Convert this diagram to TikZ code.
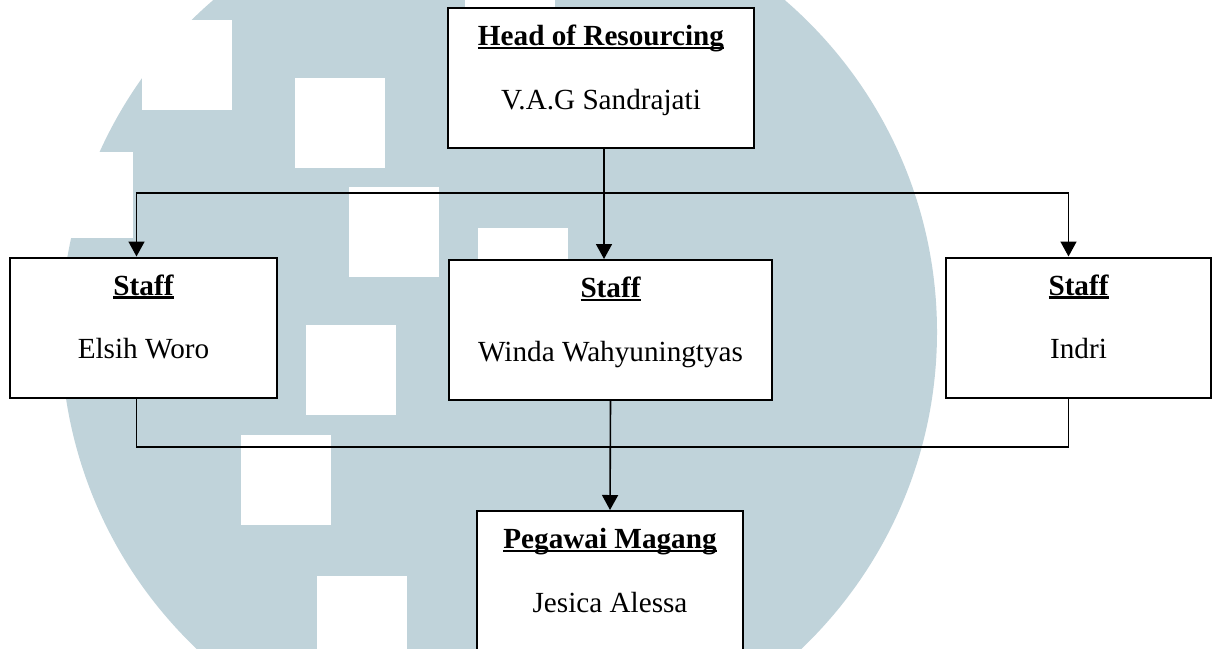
\documentclass[tikz,border=0pt]{standalone}
\usepackage{fontspec}
\setmainfont{Liberation Serif}
\usepackage{tikz}
\usetikzlibrary{arrows.meta,positioning,calc}

\definecolor{wmblue}{RGB}{192,211,218}
\newcommand{\ulbold}[1]{\setbox0\hbox{\bfseries #1}\rlap{\rule[-1.8pt]{\wd0}{1.1pt}}\box0}

\begin{document}
\begin{tikzpicture}[x=0.5pt, y={(0pt,-0.5pt)},
    orgbox/.style={draw, fill=white, line width=1pt, inner sep=0pt, minimum height=70pt},
    rolelabel/.style={anchor=base, inner sep=0pt, font=\fontsize{14.6pt}{17pt}\selectfont},
    personlabel/.style={rolelabel},
    link/.style={line width=0.8pt},
    arrow/.style={link, -{Triangle[width=8pt,length=7.5pt]}}]
    \useasboundingbox (0,0) rectangle (1218,648);

    % watermark behind the chart
    \fill[wmblue] (499,332) circle[radius=219pt];
    \foreach \sx/\sy in {142/20, 295/78, 349/187, 478/228, 306/325, 241/435, 317/576, 465/-82}
        \fill[white] (\sx,\sy) rectangle ++(90,90);
    \fill[white] (0,152) rectangle (133,238);

    % boxes
    \node[orgbox, minimum width=153pt] (head) at (601,78) {};
    \node[orgbox, minimum width=133.5pt] (elsih) at (143.5,327.5) {};
    \node[orgbox, minimum width=161.5pt] (winda) at (610.5,330) {};
    \node[orgbox, minimum width=132.5pt] (indri) at (1078.5,327.5) {};
    \node[orgbox, minimum width=133pt] (magang) at (610,581) {};

    \foreach \n/\role/\who in {head/Head of Resourcing/V.A.G Sandrajati,
        elsih/Staff/Elsih Woro, winda/Staff/Winda Wahyuningtyas,
        indri/Staff/Indri, magang/Pegawai Magang/Jesica Alessa} {
        \node[rolelabel] (\n-role) at ([yshift=-19.25pt]\n.north) {\ulbold{\role}};
        \node[personlabel] (\n-who) at ([yshift=-51pt]\n.north) {\who};
    }

    % connectors
    \coordinate (topbus) at ([xshift=1.5pt,yshift=-22pt]head.south);
    \coordinate (lowbus) at ([yshift=-23pt]winda.south);
    \draw[arrow] ([xshift=1.5pt]head.south) -- (topbus |- winda.north);
    \draw[arrow] (topbus) -| ([xshift=-3.5pt]elsih.north);
    \draw[arrow] (topbus) -| ([xshift=-5pt]indri.north);
    \draw[link] ([xshift=-3.5pt]elsih.south) |- (lowbus) -| ([xshift=-5pt]indri.south);
    \draw[arrow] (winda.south) -- (magang.north);
\end{tikzpicture}
\end{document}
